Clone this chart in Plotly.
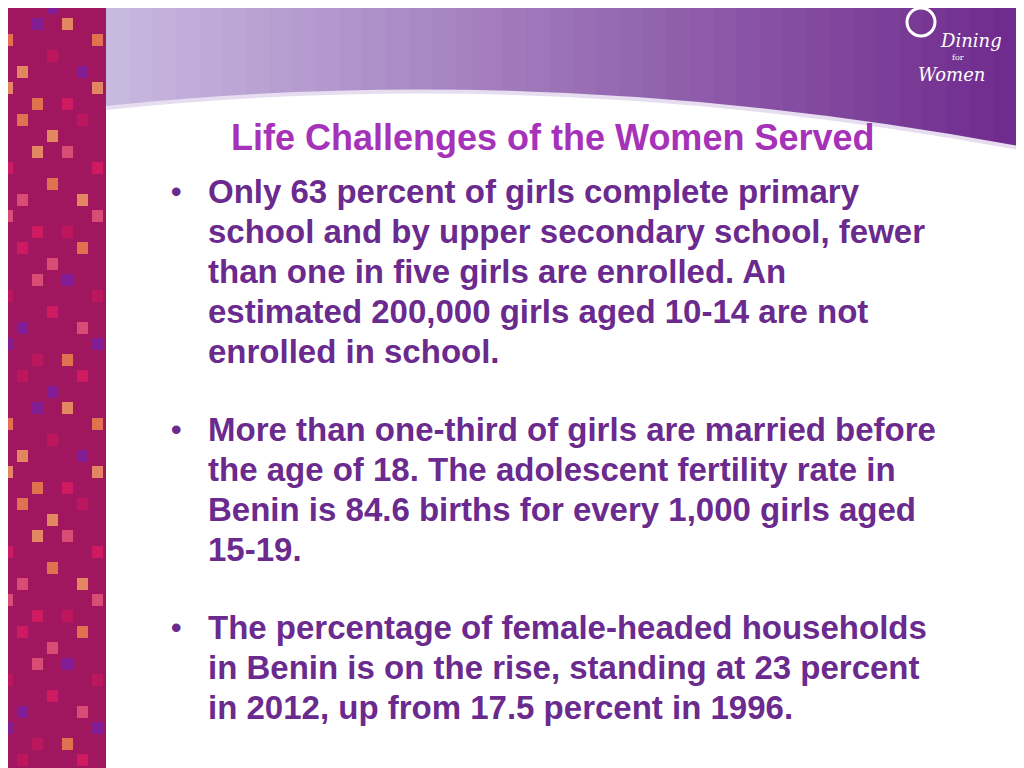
import plotly.graph_objects as go

title = "Life Challenges of the Women Served"
bullet1 = ["Only 63 percent of girls complete primary",
           "school and by upper secondary school, fewer",
           "than one in five girls are enrolled. An",
           "estimated 200,000 girls aged 10-14 are not",
           "enrolled in school."]
bullet2 = ["More than one-third of girls are married before",
           "the age of 18. The adolescent fertility rate in",
           "Benin is 84.6 births for every 1,000 girls aged",
           "15-19."]
bullet3 = ["The percentage of female-headed households",
           "in Benin is on the rise, standing at 23 percent",
           "in 2012, up from 17.5 percent in 1996."]
bullets = [bullet1, bullet2, bullet3]
bullet_tops = [191, 429, 627]

txt_col = "#6A2A8E"
title_col = "#A532B8"
font = "Liberation Sans, Arial, sans-serif"

fig = go.Figure()
shapes = []
annos = []

# left woven strip
shapes.append(dict(type="rect", x0=0, x1=106, y0=0, y1=780, fillcolor="#A0175F", line_width=0, layer="below"))
pal = ["#C2185B", "#E65A7A", "#F08A4B", "#7B1FA2", "#D81B60", "#F4A261"]
for r in range(0, 49):
    for c in range(0, 7):
        k = (r + abs(c - 3) * 2) % 8
        if k in (0, 3):
            y = r * 16
            x = c * 15
            shapes.append(dict(type="rect", x0=x + 2, x1=x + 13, y0=y + 2, y1=y + 14,
                               fillcolor=pal[(r + c) % len(pal)], line_width=0, opacity=0.8))

# top purple banner as gradient
n = 40
for i in range(n):
    t = i / (n - 1)
    r = int(200 + (110 - 200) * t)
    g = int(185 + (40 - 185) * t)
    b = int(225 + (140 - 225) * t)
    x0 = 106 + (1040 - 106) * i / n
    x1 = 106 + (1040 - 106) * (i + 1) / n + 1
    shapes.append(dict(type="rect", x0=x0, x1=x1, y0=0, y1=160,
                       fillcolor=f"rgb({r},{g},{b})", line_width=0))
# curved white bottom of banner
shapes.append(dict(type="path",
                   path="M 106 108 Q 560 60 1040 152 L 1040 780 L 106 780 Z",
                   fillcolor="white", line_width=0))
shapes.append(dict(type="path", path="M 106 108 Q 560 60 1040 152",
                   line=dict(color="#E6DDF0", width=4)))

# logo
shapes.append(dict(type="circle", x0=907, x1=935, y0=8, y1=36, line=dict(color="white", width=3)))
annos.append(dict(x=938, y=40, text="<i>Dining</i>", showarrow=False, xanchor="left",
                  font=dict(family="DejaVu Serif", size=18, color="white")))
annos.append(dict(x=950, y=57, text="for", showarrow=False, xanchor="left",
                  font=dict(family="DejaVu Serif", size=8, color="white")))
annos.append(dict(x=916, y=74, text="<i>Women</i>", showarrow=False, xanchor="left",
                  font=dict(family="DejaVu Serif", size=18, color="white")))

annos.append(dict(x=552, y=137, text=f"<b>{title}</b>", showarrow=False,
                  font=dict(family=font, size=36, color=title_col)))

for lines, top in zip(bullets, bullet_tops):
    annos.append(dict(x=176, y=top, text="<b>•</b>", showarrow=False,
                      font=dict(family=font, size=30, color=txt_col)))
    for j, ln in enumerate(lines):
        annos.append(dict(x=206, y=top + 40 * j, text=f"<b>{ln}</b>", showarrow=False,
                          xanchor="left", font=dict(family=font, size=33, color=txt_col)))

fig.update_layout(width=1024, height=768, margin=dict(l=0, r=0, t=0, b=0),
                  plot_bgcolor="white", paper_bgcolor="white",
                  xaxis=dict(range=[8, 1032], visible=False, fixedrange=True),
                  yaxis=dict(range=[776, 8], visible=False, fixedrange=True),
                  shapes=shapes, annotations=annos, showlegend=False)
fig.write_html("out.html")
